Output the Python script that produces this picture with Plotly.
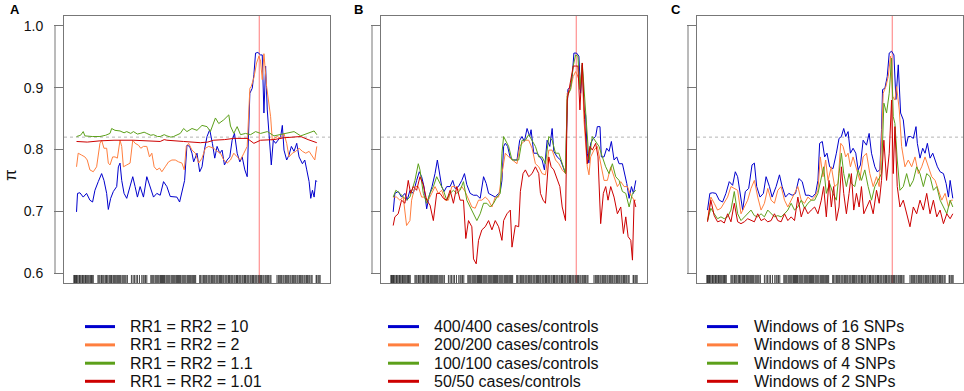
import plotly.graph_objects as go

# ---------------- data ----------------
PI_TICKS = [0.6, 0.7, 0.8, 0.9, 1.0]
PI_TICK_LABELS = ["0.6", "0.7", "0.8", "0.9", "1.0"]
THRESHOLD = 0.82
CAUSAL_POS = 554
PANEL_LETTERS = ["A", "B", "C"]

LABELS_A = ["RR1 = RR2 = 10", "RR1 = RR2 = 2", "RR1 = RR2 = 1.1", "RR1 = RR2 = 1.01"]
LABELS_B = ["400/400 cases/controls", "200/200 cases/controls",
            "100/100 cases/controls", "50/50 cases/controls"]
LABELS_C = ["Windows of 16 SNPs", "Windows of 8 SNPs", "Windows of 4 SNPs", "Windows of 2 SNPs"]

SNP_POS = [0, 2, 5, 8, 10, 13, 17, 19, 22, 26, 28, 31, 35, 37, 40, 43, 46, 50, 53, 55, 58,
           72, 75, 78, 82, 84, 87, 90, 94, 97, 99, 102, 106, 109, 112, 114, 118, 121, 124, 128,
           131, 134, 137, 140, 144, 147, 150, 153, 156, 160,
           172, 177, 181, 186, 190, 196, 203, 207, 210, 214, 218,
           230, 233, 236, 239, 243, 246, 249, 252, 255, 259, 262, 265, 268, 271, 275, 278, 281,
           284, 287, 291, 294, 297, 300, 303, 307, 310, 313, 316, 319, 323, 326, 329, 332, 335,
           339, 342, 345, 348, 351, 355, 358, 361, 364,
           376, 379, 383, 387, 390, 394, 397, 401, 404, 407, 411, 414, 418, 421, 425, 428,
           431, 435, 438, 441, 445, 448, 452, 455, 458, 462, 465, 469, 472, 475, 479, 482, 486,
           489, 493, 496, 499, 503, 506, 510, 513, 517, 520, 523, 527, 530, 534, 537, 541, 544,
           547, 551, 554, 558, 561, 565, 568, 572, 575, 579, 582, 586, 589,
           607, 611, 614, 618, 621, 625, 628, 632, 635, 639, 642, 646, 649, 653, 656,
           660, 663, 667, 670, 674, 677, 681, 684, 688, 691, 695, 698, 702, 705, 709, 712,
           724, 726, 730, 733, 736]

# Panel A: relative risks
A_BLUE_X = [8, 11, 18, 28, 38, 48, 56, 63, 73, 83, 90, 98, 103, 110, 118, 128, 133, 138, 143, 150,
            158, 168, 176, 183, 190, 198, 208, 218, 228, 238, 248, 258, 268, 278, 288, 298, 308,
            316, 323, 331, 338, 346, 353, 358, 368, 376, 383, 390, 398, 406, 414, 421, 428, 436,
            443, 450, 458, 466, 473, 480, 488, 496, 503, 511, 518, 523, 526, 533, 538, 543, 550,
            558, 563, 568, 573, 578, 584, 590, 596, 603, 610, 618, 623, 628, 636, 643, 650, 658,
            666, 673, 683, 690, 696, 703, 708, 713, 718, 723, 726]
A_BLUE_Y = [0.699, 0.729, 0.730, 0.723, 0.729, 0.718, 0.715, 0.734, 0.748, 0.761, 0.750, 0.729,
            0.703, 0.721, 0.732, 0.740, 0.772, 0.778, 0.750, 0.729, 0.721, 0.740, 0.756, 0.740,
            0.723, 0.740, 0.723, 0.756, 0.740, 0.723, 0.729, 0.726, 0.748, 0.740, 0.724, 0.723,
            0.723, 0.715, 0.730, 0.750, 0.807, 0.805, 0.794, 0.780, 0.794, 0.764, 0.772, 0.799,
            0.821, 0.832, 0.810, 0.786, 0.805, 0.794, 0.799, 0.775, 0.783, 0.788, 0.815, 0.826,
            0.794, 0.780, 0.788, 0.767, 0.756, 0.826, 0.891, 0.899, 0.921, 0.956, 0.957, 0.953,
            0.953, 0.859, 0.935, 0.864, 0.815, 0.775, 0.815, 0.810, 0.815, 0.821, 0.839, 0.799,
            0.783, 0.791, 0.805, 0.797, 0.810, 0.788, 0.777, 0.783, 0.767, 0.748, 0.721, 0.734,
            0.723, 0.750, 0.748]

A_ORANGE_X = [8, 13, 23, 33, 40, 48, 58, 68, 78, 83, 90, 98, 103, 108, 116, 123, 130, 138, 143,
              148, 158, 168, 176, 183, 193, 200, 208, 218, 226, 233, 240, 248, 256, 263, 273, 283,
              293, 303, 313, 323, 330, 336, 343, 353, 363, 373, 383, 393, 403, 418, 428, 438, 448,
              458, 468, 478, 488, 498, 508, 518, 526, 530, 538, 546, 553, 558, 563, 568, 576, 583,
              588, 593, 598, 608, 618, 628, 636, 643, 653, 663, 673, 683, 693, 703, 713, 720, 726]
A_ORANGE_Y = [0.772, 0.794, 0.791, 0.788, 0.783, 0.767, 0.764, 0.772, 0.810, 0.815, 0.802, 0.802,
              0.778, 0.775, 0.788, 0.788, 0.786, 0.815, 0.805, 0.772, 0.775, 0.778, 0.815, 0.810,
              0.807, 0.802, 0.805, 0.805, 0.788, 0.794, 0.772, 0.767, 0.770, 0.764, 0.772, 0.780,
              0.783, 0.783, 0.780, 0.778, 0.767, 0.805, 0.810, 0.799, 0.794, 0.778, 0.786, 0.802,
              0.805, 0.802, 0.797, 0.794, 0.783, 0.778, 0.783, 0.794, 0.788, 0.783, 0.794, 0.805,
              0.899, 0.902, 0.916, 0.940, 0.951, 0.943, 0.913, 0.955, 0.902, 0.867, 0.853, 0.815,
              0.818, 0.821, 0.818, 0.826, 0.810, 0.788, 0.794, 0.797, 0.802, 0.797, 0.794, 0.797,
              0.788, 0.783, 0.805]

A_GREEN_X = [8, 20, 28, 33, 55, 78, 95, 108, 113, 123, 138, 150, 158, 170, 178, 190, 198, 210,
             218, 230, 238, 250, 258, 270, 278, 290, 298, 310, 318, 328, 338, 353, 368, 383, 398,
             408, 423, 433, 448, 463, 468, 478, 488, 498, 513, 528, 543, 558, 578, 598, 618, 638,
             658, 678, 698, 718, 726]
A_GREEN_Y = [0.821, 0.823, 0.829, 0.822, 0.821, 0.821, 0.823, 0.826, 0.834, 0.831, 0.830, 0.827,
             0.829, 0.826, 0.829, 0.825, 0.826, 0.828, 0.826, 0.823, 0.824, 0.821, 0.821, 0.824,
             0.822, 0.820, 0.821, 0.824, 0.826, 0.834, 0.829, 0.834, 0.831, 0.839, 0.837, 0.829,
             0.851, 0.842, 0.848, 0.856, 0.838, 0.826, 0.837, 0.824, 0.826, 0.824, 0.829, 0.826,
             0.829, 0.822, 0.824, 0.826, 0.829, 0.822, 0.826, 0.830, 0.824]

A_RED_X = [8, 40, 78, 120, 178, 220, 258, 270, 278, 328, 378, 400, 418, 450, 478, 518, 538, 558,
           598, 628, 660, 678, 700, 726]
A_RED_Y = [0.813, 0.812, 0.814, 0.815, 0.815, 0.814, 0.813, 0.816, 0.815, 0.813, 0.811, 0.812,
           0.815, 0.816, 0.818, 0.818, 0.810, 0.815, 0.816, 0.819, 0.820, 0.821, 0.816, 0.811]

# Panel B: sample sizes
B_BLUE_X = [7, 12, 22, 32, 42, 49, 57, 67, 77, 85, 92, 99, 107, 115, 123, 132, 139, 145, 152, 159,
            167, 177, 185, 192, 202, 212, 220, 227, 237, 247, 257, 267, 277, 285, 292, 302, 312,
            322, 327, 332, 337, 342, 349, 357, 367, 377, 385, 392, 399, 407, 415, 419, 427, 437,
            445, 452, 459, 467, 475, 482, 487, 497, 507, 515, 522, 525, 529, 537, 542, 547, 555,
            562, 567, 572, 577, 582, 587, 592, 597, 605, 612, 617, 625, 629, 637, 645, 652, 659,
            667, 675, 682, 692, 699, 705, 712, 719, 725, 732]
B_BLUE_Y = [0.699, 0.729, 0.732, 0.723, 0.729, 0.718, 0.734, 0.729, 0.750, 0.764, 0.756, 0.740,
            0.704, 0.726, 0.740, 0.761, 0.783, 0.761, 0.740, 0.732, 0.740, 0.740, 0.750, 0.737,
            0.740, 0.750, 0.761, 0.743, 0.729, 0.726, 0.726, 0.721, 0.756, 0.745, 0.729, 0.726,
            0.723, 0.729, 0.732, 0.750, 0.805, 0.810, 0.805, 0.786, 0.783, 0.783, 0.815, 0.821,
            0.813, 0.834, 0.821, 0.832, 0.794, 0.794, 0.788, 0.783, 0.767, 0.815, 0.805, 0.834,
            0.797, 0.788, 0.783, 0.772, 0.761, 0.826, 0.897, 0.902, 0.918, 0.956, 0.956, 0.951,
            0.891, 0.937, 0.864, 0.856, 0.794, 0.778, 0.810, 0.818, 0.821, 0.837, 0.837, 0.788,
            0.788, 0.802, 0.797, 0.813, 0.783, 0.788, 0.777, 0.777, 0.761, 0.745, 0.721, 0.740,
            0.729, 0.750]

B_ORANGE_X = [7, 17, 27, 37, 47, 57, 62, 72, 82, 92, 102, 112, 122, 132, 142, 152, 162, 172, 182,
              192, 202, 212, 222, 232, 242, 252, 262, 272, 282, 292, 302, 312, 322, 332, 342, 352,
              362, 377, 385, 392, 402, 412, 422, 432, 442, 452, 462, 472, 482, 492, 502, 512, 522,
              527, 537, 545, 552, 557, 562, 567, 572, 577, 587, 592, 597, 607, 617, 627, 637, 647,
              657, 667, 677, 687, 697, 707, 717, 727, 732]
B_ORANGE_Y = [0.723, 0.723, 0.718, 0.723, 0.677, 0.685, 0.718, 0.740, 0.740, 0.723, 0.723, 0.718,
              0.729, 0.740, 0.729, 0.734, 0.718, 0.718, 0.740, 0.740, 0.734, 0.740, 0.732, 0.718,
              0.707, 0.705, 0.718, 0.718, 0.723, 0.718, 0.707, 0.723, 0.723, 0.761, 0.794, 0.788,
              0.783, 0.777, 0.805, 0.810, 0.815, 0.815, 0.802, 0.777, 0.772, 0.761, 0.759, 0.799,
              0.799, 0.783, 0.777, 0.767, 0.761, 0.891, 0.897, 0.918, 0.926, 0.921, 0.913, 0.907,
              0.935, 0.848, 0.772, 0.759, 0.788, 0.799, 0.805, 0.777, 0.750, 0.750, 0.772, 0.756,
              0.740, 0.748, 0.740, 0.740, 0.726, 0.718, 0.718]

B_GREEN_X = [7, 15, 27, 37, 47, 57, 72, 82, 87, 97, 107, 117, 127, 137, 147, 157, 167, 177, 187,
             197, 207, 217, 227, 237, 247, 257, 267, 277, 287, 297, 307, 317, 327, 332, 337, 342,
             352, 362, 372, 382, 392, 402, 412, 422, 432, 442, 452, 462, 472, 482, 492, 502, 512,
             522, 527, 537, 545, 552, 559, 565, 572, 579, 587, 592, 602, 612, 622, 632, 642, 652,
             662, 672, 682, 692, 702, 712, 722, 732]
B_GREEN_Y = [0.723, 0.734, 0.729, 0.723, 0.718, 0.723, 0.750, 0.777, 0.767, 0.729, 0.713, 0.729,
             0.740, 0.756, 0.745, 0.734, 0.718, 0.729, 0.734, 0.729, 0.734, 0.748, 0.718, 0.707,
             0.696, 0.685, 0.696, 0.713, 0.713, 0.707, 0.713, 0.723, 0.729, 0.794, 0.821, 0.815,
             0.805, 0.783, 0.783, 0.783, 0.815, 0.815, 0.824, 0.815, 0.805, 0.788, 0.788, 0.777,
             0.821, 0.815, 0.794, 0.794, 0.777, 0.761, 0.886, 0.897, 0.935, 0.953, 0.951, 0.897,
             0.940, 0.880, 0.815, 0.783, 0.821, 0.813, 0.805, 0.788, 0.772, 0.761, 0.777, 0.756,
             0.750, 0.732, 0.729, 0.707, 0.729, 0.734]

B_RED_X = [7, 12, 22, 32, 42, 52, 59, 67, 77, 87, 97, 107, 117, 127, 137, 147, 157, 167, 177, 187,
           197, 207, 217, 224, 232, 242, 247, 255, 262, 272, 282, 292, 302, 312, 322, 332, 337, 347,
           357, 362, 372, 382, 387, 395, 402, 412, 422, 432, 442, 447, 455, 462, 472, 479, 487, 497,
           505, 512, 522, 527, 537, 545, 552, 559, 565, 572, 579, 587, 595, 602, 612, 619, 627, 635,
           642, 649, 657, 667, 677, 687, 695, 702, 709, 717, 722, 727, 732]
B_RED_Y = [0.677, 0.691, 0.696, 0.718, 0.713, 0.750, 0.729, 0.740, 0.734, 0.756, 0.743, 0.718,
           0.710, 0.685, 0.729, 0.729, 0.721, 0.718, 0.734, 0.713, 0.740, 0.718, 0.718, 0.656,
           0.685, 0.675, 0.623, 0.615, 0.653, 0.670, 0.675, 0.685, 0.670, 0.685, 0.675, 0.653,
           0.685, 0.696, 0.702, 0.642, 0.677, 0.675, 0.732, 0.761, 0.767, 0.756, 0.761, 0.772,
           0.761, 0.729, 0.718, 0.713, 0.788, 0.772, 0.767, 0.750, 0.740, 0.707, 0.685, 0.880,
           0.913, 0.935, 0.935, 0.935, 0.864, 0.940, 0.848, 0.777, 0.805, 0.799, 0.810, 0.788,
           0.680, 0.729, 0.740, 0.718, 0.740, 0.723, 0.696, 0.707, 0.664, 0.691, 0.659, 0.653,
           0.621, 0.718, 0.707]

# Panel C: window sizes
C_BLUE_X = [2, 9, 17, 27, 37, 47, 57, 67, 77, 85, 92, 99, 107, 115, 125, 135, 142, 149, 159, 169,
            177, 187, 195, 207, 217, 225, 235, 245, 255, 265, 275, 285, 295, 305, 315, 325, 332,
            337, 345, 352, 359, 367, 377, 387, 395, 402, 409, 415, 422, 429, 437, 445, 452, 459,
            467, 477, 485, 492, 502, 509, 517, 522, 525, 532, 539, 545, 552, 559, 565, 572, 579,
            587, 595, 602, 609, 617, 625, 629, 637, 645, 652, 659, 667, 675, 682, 689, 697, 707,
            715, 722, 727, 735]
C_BLUE_Y = [0.702, 0.729, 0.730, 0.729, 0.718, 0.715, 0.729, 0.748, 0.742, 0.764, 0.756, 0.729,
            0.702, 0.732, 0.737, 0.775, 0.778, 0.740, 0.723, 0.729, 0.756, 0.740, 0.723, 0.740,
            0.759, 0.740, 0.723, 0.729, 0.726, 0.729, 0.753, 0.748, 0.726, 0.726, 0.723, 0.729,
            0.750, 0.810, 0.813, 0.788, 0.794, 0.772, 0.769, 0.794, 0.818, 0.821, 0.834, 0.821,
            0.829, 0.794, 0.802, 0.794, 0.767, 0.775, 0.815, 0.807, 0.826, 0.794, 0.772, 0.764,
            0.767, 0.832, 0.897, 0.899, 0.918, 0.956, 0.959, 0.953, 0.881, 0.937, 0.859, 0.848,
            0.805, 0.821, 0.821, 0.818, 0.837, 0.810, 0.786, 0.802, 0.794, 0.810, 0.786, 0.794,
            0.783, 0.772, 0.764, 0.761, 0.745, 0.723, 0.750, 0.721]

C_ORANGE_X = [2, 12, 22, 32, 42, 52, 62, 72, 82, 92, 102, 112, 122, 132, 142, 152, 162, 172, 182,
              192, 202, 212, 222, 232, 242, 252, 262, 272, 282, 292, 302, 312, 322, 332, 339, 347,
              355, 362, 372, 382, 392, 400, 407, 415, 422, 429, 437, 447, 457, 467, 477, 487, 497,
              507, 515, 522, 527, 535, 542, 549, 555, 562, 567, 575, 582, 592, 602, 612, 622, 632,
              642, 652, 662, 672, 682, 692, 702, 712, 722, 730, 735]
C_ORANGE_Y = [0.685, 0.723, 0.713, 0.702, 0.705, 0.713, 0.723, 0.740, 0.737, 0.734, 0.696, 0.707,
              0.718, 0.737, 0.750, 0.723, 0.702, 0.713, 0.737, 0.718, 0.713, 0.734, 0.740, 0.718,
              0.707, 0.718, 0.729, 0.740, 0.718, 0.713, 0.723, 0.718, 0.723, 0.734, 0.788, 0.756,
              0.783, 0.750, 0.772, 0.740, 0.745, 0.810, 0.805, 0.788, 0.794, 0.772, 0.788, 0.767,
              0.750, 0.788, 0.794, 0.761, 0.740, 0.756, 0.740, 0.815, 0.891, 0.902, 0.918, 0.951,
              0.886, 0.880, 0.902, 0.864, 0.805, 0.772, 0.783, 0.772, 0.788, 0.761, 0.772, 0.788,
              0.772, 0.756, 0.750, 0.734, 0.718, 0.729, 0.707, 0.718, 0.718]

C_GREEN_X = [2, 12, 22, 32, 42, 52, 62, 72, 82, 92, 102, 112, 122, 132, 142, 152, 162, 172, 182,
             192, 202, 212, 222, 232, 242, 252, 262, 272, 282, 292, 302, 312, 322, 332, 342, 349,
             357, 367, 377, 387, 395, 402, 409, 417, 425, 432, 442, 452, 462, 472, 482, 492, 502,
             512, 522, 529, 537, 545, 552, 557, 562, 569, 577, 587, 597, 607, 617, 627, 637, 647,
             657, 667, 677, 687, 697, 707, 717, 727, 735]
C_GREEN_Y = [0.685, 0.705, 0.696, 0.688, 0.691, 0.688, 0.691, 0.702, 0.732, 0.696, 0.685, 0.691,
             0.696, 0.702, 0.693, 0.691, 0.696, 0.691, 0.702, 0.696, 0.691, 0.693, 0.691, 0.696,
             0.702, 0.713, 0.702, 0.707, 0.718, 0.705, 0.713, 0.718, 0.718, 0.729, 0.756, 0.772,
             0.729, 0.745, 0.729, 0.718, 0.761, 0.794, 0.761, 0.740, 0.761, 0.745, 0.740, 0.767,
             0.750, 0.767, 0.740, 0.718, 0.740, 0.750, 0.761, 0.875, 0.859, 0.891, 0.948, 0.853,
             0.842, 0.783, 0.734, 0.740, 0.761, 0.740, 0.750, 0.772, 0.761, 0.740, 0.761, 0.756,
             0.734, 0.740, 0.718, 0.707, 0.696, 0.718, 0.707]

C_RED_X = [2, 12, 22, 32, 42, 52, 62, 72, 82, 92, 102, 112, 122, 132, 142, 152, 162, 172, 182,
           192, 202, 212, 222, 232, 242, 252, 262, 272, 282, 292, 302, 312, 322, 332, 342, 349,
           357, 365, 372, 379, 387, 395, 402, 409, 417, 425, 432, 439, 447, 455, 462, 469, 477,
           487, 497, 507, 515, 522, 529, 537, 545, 552, 557, 562, 569, 577, 587, 597, 607, 617,
           627, 637, 647, 657, 667, 677, 687, 697, 707, 717, 727, 735]
C_RED_Y = [0.683, 0.718, 0.693, 0.683, 0.685, 0.681, 0.696, 0.683, 0.713, 0.683, 0.680, 0.683,
           0.688, 0.685, 0.683, 0.696, 0.685, 0.688, 0.683, 0.685, 0.696, 0.685, 0.683, 0.696,
           0.685, 0.691, 0.685, 0.723, 0.691, 0.707, 0.696, 0.702, 0.707, 0.696, 0.718, 0.740,
           0.691, 0.750, 0.707, 0.740, 0.685, 0.707, 0.772, 0.729, 0.696, 0.729, 0.761, 0.702,
           0.729, 0.707, 0.740, 0.696, 0.707, 0.718, 0.696, 0.734, 0.713, 0.750, 0.815, 0.750,
           0.794, 0.880, 0.761, 0.837, 0.740, 0.707, 0.718, 0.696, 0.675, 0.707, 0.696, 0.718,
           0.702, 0.729, 0.696, 0.718, 0.691, 0.702, 0.680, 0.696, 0.688, 0.696]

PANEL_SERIES = [
    [(A_BLUE_X, A_BLUE_Y), (A_ORANGE_X, A_ORANGE_Y), (A_GREEN_X, A_GREEN_Y), (A_RED_X, A_RED_Y)],
    [(B_BLUE_X, B_BLUE_Y), (B_ORANGE_X, B_ORANGE_Y), (B_GREEN_X, B_GREEN_Y), (B_RED_X, B_RED_Y)],
    [(C_BLUE_X, C_BLUE_Y), (C_ORANGE_X, C_ORANGE_Y), (C_GREEN_X, C_GREEN_Y), (C_RED_X, C_RED_Y)],
]
PANEL_LABELS = [LABELS_A, LABELS_B, LABELS_C]

# ---------------- style / layout ----------------
W, H = 964, 391
COLORS = ["#0000CD", "#FF7F3F", "#5CA01A", "#CD0000"]
FRAME = "#777777"
FONT = "Liberation Sans, Arial, Helvetica, sans-serif"
FRAME_X_PX = [(64, 330), (381, 647), (697, 963)]
FRAME_Y_PX = (16, 283)
LETTER_X_PX = [8, 352, 669]
LEG_LINE_X_PX = [(85, 115), (388, 419), (707, 738)]
LEG_TEXT_X_PX = [129, 433, 753]
LEG_ROW_Y_PX = [326.6, 344.9, 363.2, 381.3]
TICK_LEN = 9

x_lo, x_hi = min(SNP_POS), max(SNP_POS)
x_pad = 0.04 * (x_hi - x_lo)
X_RANGE = [x_lo - x_pad, x_hi + x_pad]
y_pad = 0.04 * (PI_TICKS[-1] - PI_TICKS[0])
Y_RANGE = [PI_TICKS[0] - y_pad, PI_TICKS[-1] + y_pad]
RUG_TOP = Y_RANGE[0] + 0.03 * (Y_RANGE[1] - Y_RANGE[0])


def px(x):
    return x / W


def py(y):
    return 1 - y / H


fig = go.Figure()
shapes, annots = [], []

for i in range(3):
    sfx = "" if i == 0 else str(i + 1)
    xa, ya = "x" + sfx, "y" + sfx
    # rug of SNP positions
    rx, ry = [], []
    for p in SNP_POS:
        rx += [p, p, None]
        ry += [Y_RANGE[0], RUG_TOP, None]
    fig.add_trace(go.Scatter(x=rx, y=ry, mode="lines", xaxis=xa, yaxis=ya,
                             line=dict(color="#111111", width=0.8),
                             showlegend=False, hoverinfo="skip"))
    for (sx, sy), col, lab in zip(PANEL_SERIES[i], COLORS, PANEL_LABELS[i]):
        fig.add_trace(go.Scatter(x=sx, y=sy, mode="lines", xaxis=xa, yaxis=ya, name=lab,
                                 line=dict(color=col, width=1), showlegend=False))

    x0p, x1p = FRAME_X_PX[i]
    fig.layout["xaxis" + sfx] = dict(
        domain=[px(x0p), px(x1p)], range=X_RANGE, showgrid=False, zeroline=False,
        showticklabels=False, ticks="", showline=True, mirror=True, linecolor=FRAME,
        linewidth=1, anchor=ya)
    fig.layout["yaxis" + sfx] = dict(
        domain=[py(FRAME_Y_PX[1]), py(FRAME_Y_PX[0])], range=Y_RANGE, showgrid=False,
        zeroline=False, tickvals=PI_TICKS, ticktext=PI_TICK_LABELS,
        showticklabels=(i == 0), ticks="outside", ticklen=TICK_LEN, tickcolor=FRAME,
        tickwidth=1, ticklabelstandoff=8, tickfont=dict(family=FONT, size=14, color="#111"),
        showline=True, mirror=True, linecolor=FRAME, linewidth=1, anchor=xa)

    dom = " domain"
    # detached y-axis line
    off = -TICK_LEN / (x1p - x0p)
    shapes.append(dict(type="line", xref=xa + dom, yref=ya, x0=off, x1=off,
                       y0=PI_TICKS[0], y1=PI_TICKS[-1], line=dict(color=FRAME, width=1)))
    # threshold
    shapes.append(dict(type="line", xref=xa + dom, yref=ya, x0=0, x1=1, y0=THRESHOLD,
                       y1=THRESHOLD, line=dict(color="#b5b5b5", width=1, dash="dot"),
                       layer="below"))
    # causal SNP
    shapes.append(dict(type="line", xref=xa, yref=ya + dom, x0=CAUSAL_POS, x1=CAUSAL_POS,
                       y0=0, y1=1, line=dict(color="#ff7a7a", width=1), layer="below"))
    # panel letter
    annots.append(dict(text="<b>%s</b>" % PANEL_LETTERS[i], xref="paper", yref="paper",
                       x=px(LETTER_X_PX[i]), y=py(9.5), xanchor="left", yanchor="middle",
                       showarrow=False, font=dict(family=FONT, size=13, color="#000")))
    # legend
    lx0, lx1 = LEG_LINE_X_PX[i]
    for ry_px, col, lab in zip(LEG_ROW_Y_PX, COLORS, PANEL_LABELS[i]):
        shapes.append(dict(type="line", xref="paper", yref="paper", x0=px(lx0), x1=px(lx1),
                           y0=py(ry_px), y1=py(ry_px), line=dict(color=col, width=3)))
        annots.append(dict(text=lab, xref="paper", yref="paper", x=px(LEG_TEXT_X_PX[i]),
                           y=py(ry_px), xanchor="left", yanchor="middle", showarrow=False,
                           borderpad=0, font=dict(family=FONT, size=16, color="#111")))

annots.append(dict(text="π", xref="paper", yref="paper", x=px(10), y=py(175),
                   xanchor="center", yanchor="middle", textangle=-90, showarrow=False,
                   font=dict(family=FONT, size=17, color="#111")))

fig.update_layout(width=W, height=H, margin=dict(l=0, r=0, t=0, b=0),
                  paper_bgcolor="white", plot_bgcolor="white", shapes=shapes,
                  annotations=annots, showlegend=False)

fig.write_html("out.html", config={"displayModeBar": False},
               post_script="document.body.style.margin='0px';")
